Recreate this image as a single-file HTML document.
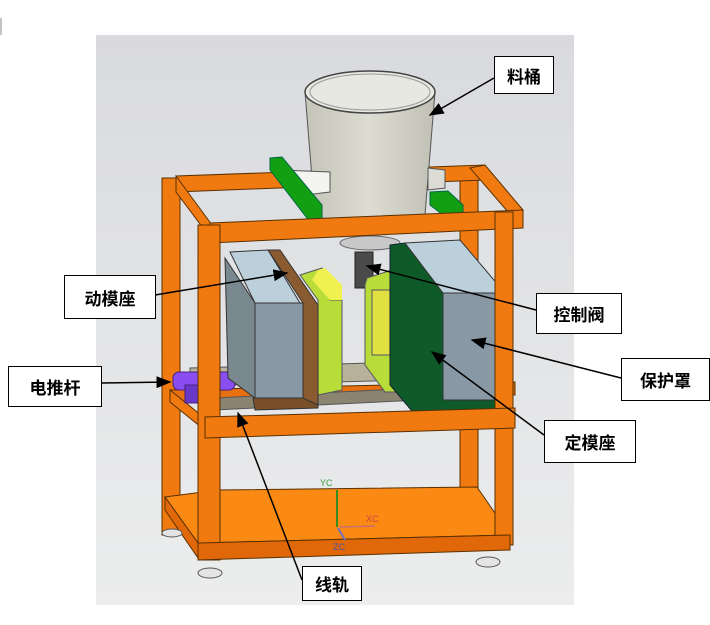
<!DOCTYPE html>
<html><head><meta charset="utf-8"><style>
body{margin:0;background:#fff;width:710px;height:625px;overflow:hidden;}
.lb{position:absolute;background:#fff;border:1.5px solid #000;font:bold 17px "Liberation Sans","Noto Sans CJK SC",sans-serif;display:flex;align-items:center;justify-content:center;box-sizing:border-box;}
</style></head><body>
<svg width="710" height="625" style="position:absolute;left:0;top:0">
<defs>
<linearGradient id="bg" x1="0" y1="0" x2="0" y2="1"><stop offset="0" stop-color="#d9dade"/><stop offset="1" stop-color="#eceded"/></linearGradient>
<linearGradient id="cyl" x1="0" x2="1"><stop offset="0" stop-color="#c4c4b8"/><stop offset="0.5" stop-color="#dcdcd2"/><stop offset="1" stop-color="#c0c0b4"/></linearGradient>
<marker id="ar" markerWidth="10" markerHeight="8" refX="9" refY="4" orient="auto"><path d="M0,0L10,4L0,8z" fill="#000"/></marker>
</defs>
<line x1="1" y1="18" x2="1" y2="35" stroke="#888"/>
<rect x="96" y="35" width="478" height="570" fill="url(#bg)"/>
<g stroke="#5a3000" stroke-width="1" fill="#f07a10">
<!-- back posts -->
<rect x="162" y="178" width="18" height="357"/>
<rect x="460" y="168" width="18" height="320"/>
<!-- bottom plate -->
<polygon points="165,497 218,490 477,487 510,535 198,543" fill="#fb8a14"/>
<polygon points="165,497 198,543 198,558 165,510" fill="#e06808"/>
<!-- back top beams -->
<polygon points="176,176 485,165 485,180 176,192"/>
<polygon points="176,176 212,225 212,240 176,192"/>
<polygon points="470,168 485,165 523,210 508,212"/>
<!-- back middle beam -->
<polygon points="170,390 515,382 515,395 170,402" fill="#e87010"/>
<polygon points="170,390 207,420 207,432 170,402"/>
</g>
<!-- bucket -->
<path d="M305,92 L315,215 Q370,240 425,215 L435,92 Z" fill="url(#cyl)" stroke="#555"/>
<ellipse cx="370" cy="92" rx="65" ry="21" fill="#e8e8e2" stroke="#444" stroke-width="1.5"/>
<ellipse cx="370" cy="92" rx="60" ry="18" fill="none" stroke="#999"/>
<polygon points="280,170 330,172 330,192 305,195" fill="#f4f4f0" stroke="#555"/>
<polygon points="428,168 445,170 445,188 428,190" fill="#dcdcd4" stroke="#555"/>
<polygon points="270,158 282,157 322,205 322,222 310,222 270,170" fill="#12a012" stroke="#064"/>
<polygon points="430,192 448,191 463,205 463,217 447,218 430,205" fill="#12a012" stroke="#064"/>
<!-- valve -->
<ellipse cx="370" cy="243" rx="30" ry="7" fill="#c8c8c8" stroke="#666"/>
<rect x="355" y="252" width="18" height="36" fill="#4a4a4a" stroke="#222"/>
<g stroke="#5a3000" stroke-width="1" fill="#f07a10">
<!-- front top beam -->
<polygon points="210,223 523,210 523,228 210,243"/>
</g>
<!-- rails -->
<polygon points="190,368 410,362 410,380 190,386" fill="#b8b29a" stroke="#555"/>
<polygon points="215,398 420,388 420,400 215,410" fill="#8a8470" stroke="#555"/>
<!-- purple pusher -->
<rect x="173" y="372" width="62" height="18" rx="6" fill="#8a4ef0" stroke="#4a2080"/>
<rect x="185" y="385" width="25" height="18" fill="#6a38c8" stroke="#4a2080"/>
<!-- yellow-green plates left -->
<polygon points="300,275 322,268 330,300 342,300 342,390 318,395 318,300" fill="#b8dc38" stroke="#556"/>
<polygon points="318,270 325,268 342,285 342,300 330,300 312,280" fill="#f0f050"/>
<!-- right yellow plates -->
<polygon points="367,278 392,270 418,305 418,392 385,392 365,365 365,285" fill="#b8dc38" stroke="#556"/>
<rect x="372" y="290" width="22" height="65" fill="#e0e040" stroke="#556"/>
<!-- left block -->
<polygon points="230,252 268,250 300,303 255,303" fill="#bcd0dc" stroke="#333"/>
<polygon points="225,258 255,303 255,398 228,378" fill="#7a8890" stroke="#333"/>
<rect x="255" y="303" width="48" height="95" fill="#8898a4" stroke="#333"/>
<polygon points="268,250 280,250 318,305 318,405 303,405 303,303" fill="#8a5a30" stroke="#333"/>
<polygon points="253,398 303,398 318,405 318,408 255,410" fill="#7a5028" stroke="#333"/>
<!-- right green plate + block -->
<polygon points="390,245 405,243 443,293 443,400 500,400 500,417 417,417 390,385" fill="#0e5a28" stroke="#123"/>
<polygon points="405,243 460,240 505,293 443,293" fill="#bcd0dc" stroke="#333"/>
<rect x="443" y="293" width="62" height="107" fill="#8898a4" stroke="#333"/>
<g stroke="#5a3000" stroke-width="1" fill="#f07a10">
<!-- front posts -->
<rect x="198" y="225" width="22" height="335"/>
<rect x="495" y="212" width="18" height="333"/>
<!-- front middle beam -->
<polygon points="205,417 515,408 515,428 205,438"/>
<!-- front bottom beam -->
<polygon points="198,543 510,535 510,550 198,560" fill="#e06808"/>
</g>
<!-- feet -->
<g fill="#e4e4e4" stroke="#555">
<ellipse cx="172" cy="533" rx="10" ry="4"/><ellipse cx="210" cy="573" rx="12" ry="5"/>
<ellipse cx="488" cy="562" rx="12" ry="5"/>
</g>
<!-- axes -->
<line x1="337" y1="527" x2="337" y2="490" stroke="#3a8a20" stroke-width="2"/>
<line x1="340" y1="527" x2="375" y2="526" stroke="#c87070" stroke-width="1.5"/>
<line x1="338" y1="528" x2="345" y2="540" stroke="#7070c0" stroke-width="2"/>
<text x="320" y="486" font-family="Liberation Sans" font-size="9" fill="#3a9a3a">YC</text>
<text x="366" y="522" font-family="Liberation Sans" font-size="9" fill="#d04040">XC</text>
<text x="333" y="550" font-family="Liberation Sans" font-size="9" fill="#5050a0">ZC</text>
<!-- leaders -->
<g stroke="#000" stroke-width="1.5" marker-end="url(#ar)">
<line x1="494" y1="78" x2="430" y2="115"/>
<line x1="155" y1="295" x2="287" y2="273"/>
<line x1="536" y1="310" x2="367" y2="266"/>
<line x1="101" y1="383" x2="170" y2="382"/>
<line x1="621" y1="378" x2="472" y2="340"/>
<line x1="544" y1="435" x2="432" y2="352"/>
<line x1="302" y1="580" x2="238" y2="413"/>
</g>
</svg>
<div class="lb" style="left:494px;top:56px;width:60px;height:38px">料桶</div>
<div class="lb" style="left:64px;top:275px;width:92px;height:44px">动模座</div>
<div class="lb" style="left:536px;top:293px;width:86px;height:41px">控制阀</div>
<div class="lb" style="left:8px;top:366px;width:94px;height:41px">电推杆</div>
<div class="lb" style="left:621px;top:358px;width:89px;height:43px">保护罩</div>
<div class="lb" style="left:544px;top:420px;width:92px;height:43px">定模座</div>
<div class="lb" style="left:302px;top:566px;width:60px;height:35px">线轨</div>
</body></html>
